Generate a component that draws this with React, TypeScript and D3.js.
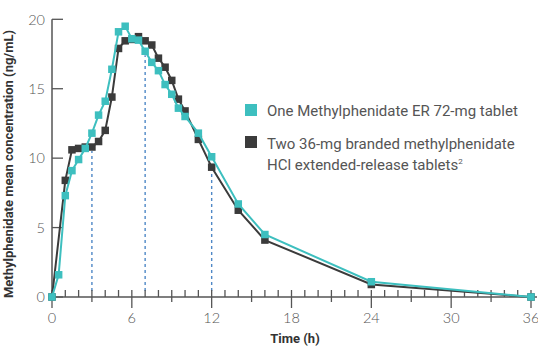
import { useEffect, useRef } from "react";
import * as d3 from "d3";

// sampling times (h)
const times = [0, 0.5, 1, 1.5, 2, 2.5, 3, 3.5, 4, 4.5, 5, 5.5, 6, 6.5, 7, 7.5, 8, 8.5, 9, 9.5, 10, 11, 12, 14, 16, 24, 36];

// One Methylphenidate ER 72-mg tablet
const erValues = [0, 1.6, 7.3, 9.1, 9.9, 10.7, 11.8, 13.1, 14.1, 16.4, 19.1, 19.5, 18.6, 18.5, 17.7, 16.9, 16.3, 15.3, 14.6, 13.6, 13.0, 11.8, 10.1, 6.7, 4.5, 1.1, 0];

// Two 36-mg branded tablets (no 0.5 h sample visible)
const brandTimes = [0, 1, 1.5, 2, 2.5, 3, 3.5, 4, 4.5, 5, 5.5, 6, 6.5, 7, 7.5, 8, 8.5, 9, 9.5, 10, 11, 12, 14, 16, 24, 36];
const brandValues = [0, 8.4, 10.6, 10.7, 10.8, 10.8, 11.2, 12.0, 14.4, 17.9, 18.45, 18.55, 18.75, 18.45, 18.15, 17.2, 16.55, 15.6, 14.25, 13.4, 11.35, 9.35, 6.25, 4.1, 0.9, 0];

const markerTimes = [3, 7, 12];
const xTicks = [0, 6, 12, 18, 24, 30, 36];
const yTicks = [0, 5, 10, 15, 20];

const TEAL = "#3dbfbf";
const DARK = "#3b3b3b";
const AXIS = "#555";

export default function App() {
  const svgRef = useRef(null);

  useEffect(() => {
    const svg = d3.select(svgRef.current);
    svg.selectAll("*").remove();

    const x = d3.scaleLinear().domain([0, 36]).range([52, 531]);
    const y = d3.scaleLinear().domain([0, 20]).range([297, 19.3]);

    const er = times.map((t, i) => ({ t, v: erValues[i] }));
    const brand = brandTimes.map((t, i) => ({ t, v: brandValues[i] }));

    // dashed reference lines up to the lower curve
    markerTimes.forEach(t => {
      const a = er.find(d => d.t === t).v;
      const b = brand.find(d => d.t === t).v;
      svg.append("line")
        .attr("x1", x(t)).attr("x2", x(t))
        .attr("y1", y(0) - 6).attr("y2", y(Math.min(a, b)) + 4)
        .attr("stroke", "#4f88c6")
        .attr("stroke-width", 1.4)
        .attr("stroke-dasharray", "3,3");
    });

    // x axis line + ticks
    svg.append("line")
      .attr("x1", 50).attr("x2", 537)
      .attr("y1", y(0)).attr("y2", y(0))
      .attr("stroke", AXIS).attr("stroke-width", 1.5);

    d3.range(0, 37).forEach(h => {
      const down = h % 6 === 0 ? 11 : h % 3 === 0 ? 5 : 0;
      svg.append("line")
        .attr("x1", x(h)).attr("x2", x(h))
        .attr("y1", y(0) - 7).attr("y2", y(0) + down)
        .attr("stroke", AXIS).attr("stroke-width", 1.3);
    });

    svg.append("g")
      .selectAll("text")
      .data(xTicks)
      .join("text")
      .attr("x", d => x(d))
      .attr("y", 323)
      .attr("text-anchor", "middle")
      .style("font-family", "Lato, sans-serif")
      .style("font-size", "14.5px")
      .style("font-weight", "300")
      .style("fill", "#555")
      .text(d => d);

    // y axis
    svg.append("line")
      .attr("x1", x(0)).attr("x2", x(0))
      .attr("y1", y(20)).attr("y2", y(0))
      .attr("stroke", AXIS).attr("stroke-width", 1.5);

    yTicks.forEach(v => {
      svg.append("line")
        .attr("x1", x(0)).attr("x2", x(0) + 11)
        .attr("y1", y(v)).attr("y2", y(v))
        .attr("stroke", AXIS).attr("stroke-width", 1.3);
    });

    svg.append("g")
      .selectAll("text")
      .data(yTicks)
      .join("text")
      .attr("x", 45)
      .attr("y", d => y(d))
      .attr("dy", "0.36em")
      .attr("text-anchor", "end")
      .style("font-family", "Lato, sans-serif")
      .style("font-size", "14.5px")
      .style("font-weight", "300")
      .style("fill", "#555")
      .text(d => d);

    // axis titles
    svg.append("text")
      .attr("transform", `translate(13, ${164}) rotate(-90)`)
      .attr("text-anchor", "middle")
      .style("font-family", "Roboto, sans-serif")
      .style("font-size", "13px")
      .style("font-weight", "700")
      .style("fill", "#333")
      .text("Methylphenidate mean concentration (ng/mL)");

    svg.append("text")
      .attr("x", 295)
      .attr("y", 343)
      .attr("text-anchor", "middle")
      .style("font-family", "Roboto, sans-serif")
      .style("font-size", "13px")
      .style("font-weight", "700")
      .style("fill", "#333")
      .text("Time (h)");

    // series, branded first so the ER line sits on top
    const line = d3.line().x(d => x(d.t)).y(d => y(d.v));
    [[brand, DARK], [er, TEAL]].forEach(([data, color]) => {
      svg.append("path")
        .datum(data)
        .attr("fill", "none")
        .attr("stroke", color)
        .attr("stroke-width", 2)
        .attr("d", line);
      svg.append("g")
        .selectAll("rect")
        .data(data)
        .join("rect")
        .attr("x", d => x(d.t) - 3.75)
        .attr("y", d => y(d.v) - 3.75)
        .attr("width", 7.5)
        .attr("height", 7.5)
        .attr("fill", color);
    });

    // legend
    const legend = svg.append("g")
      .style("font-family", "Roboto, sans-serif")
      .style("font-size", "15px")
      .style("fill", "#555");

    legend.append("rect").attr("x", 245).attr("y", 104).attr("width", 12).attr("height", 12).attr("fill", TEAL);
    legend.append("text").attr("x", 267).attr("y", 116).text("One Methylphenidate ER 72-mg tablet");

    legend.append("rect").attr("x", 245).attr("y", 136).attr("width", 12).attr("height", 12).attr("fill", DARK);
    legend.append("text").attr("x", 267).attr("y", 149).text("Two 36-mg branded methylphenidate");
    const l2 = legend.append("text").attr("x", 267).attr("y", 170);
    l2.append("tspan").text("HCl extended-release tablets");
    l2.append("tspan").attr("dy", -6).style("font-size", "8px").text("2");
  }, []);

  return (
    <svg
      ref={svgRef}
      width={538}
      height={346}
      style={{ position: "absolute", left: 0, top: 0, background: "#fff" }}
    />
  );
}
